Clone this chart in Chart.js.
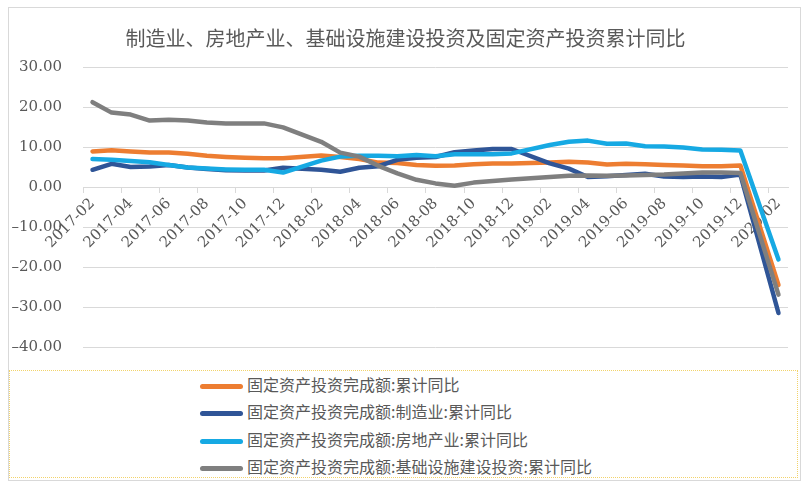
<!DOCTYPE html>
<html>
<head>
<meta charset="utf-8">
<script src="https://cdn.jsdelivr.net/npm/chart.js@4/dist/chart.umd.min.js"></script>
<style>
  body { margin: 0; background: #fff; }
  #frame { position: absolute; left: 8px; top: 7px; width: 791px; height: 472px; border: 1px solid #d9d9d9; }
  #plot { position: absolute; left: 0; top: 0; width: 790px; height: 360px; }
  #legend { position: absolute; left: 0; top: 362px; width: 787px; height: 106px; border: 1px dotted #f2d36b; }
  .row { height: 27.3px; line-height: 27.3px; white-space: nowrap; font-family: "Noto Sans CJK SC", sans-serif; font-size: 16px; color: #595959; }
  .swatch { display: inline-block; vertical-align: middle; margin-left: 190px; margin-right: 4px; width: 43px; height: 5px; border-radius: 3px; }
</style>
</head>
<body>
<div id="frame">
  <div id="plot"><canvas id="grafico"></canvas></div>
  <div id="legend"></div>
</div>
<script>
// Meses (enero sin dato, la línea lo salta)
const meses = [
  '2017-02', '2017-03', '2017-04', '2017-05', '2017-06', '2017-07', '2017-08', '2017-09', '2017-10', '2017-11', '2017-12',
  '2018-01', '2018-02', '2018-03', '2018-04', '2018-05', '2018-06', '2018-07', '2018-08', '2018-09', '2018-10', '2018-11', '2018-12',
  '2019-01', '2019-02', '2019-03', '2019-04', '2019-05', '2019-06', '2019-07', '2019-08', '2019-09', '2019-10', '2019-11', '2019-12',
  '2020-01', '2020-02'
];

const nombres = [
  '固定资产投资完成额:累计同比',
  '固定资产投资完成额:制造业:累计同比',
  '固定资产投资完成额:房地产业:累计同比',
  '固定资产投资完成额:基础设施建设投资:累计同比'
];

const total = [
  8.9, 9.2, 8.9, 8.6, 8.6, 8.3, 7.8, 7.5, 7.3, 7.2, 7.2,
  null, 7.9, 7.5, 7.0, 6.1, 6.0, 5.5, 5.3, 5.4, 5.7, 5.9, 5.9,
  null, 6.1, 6.3, 6.1, 5.6, 5.8, 5.7, 5.5, 5.4, 5.2, 5.2, 5.4,
  null, -24.5
];
const manufactura = [
  4.3, 5.8, 5.0, 5.1, 5.5, 4.9, 4.5, 4.2, 4.1, 4.1, 4.8,
  null, 4.3, 3.8, 4.8, 5.2, 6.8, 7.3, 7.5, 8.7, 9.1, 9.5, 9.5,
  null, 5.9, 4.6, 2.5, 2.7, 3.0, 3.3, 2.6, 2.5, 2.6, 2.5, 3.1,
  null, -31.5
];
const inmobiliario = [
  7.0, 6.8, 6.5, 6.2, 5.5, 4.9, 4.6, 4.4, 4.3, 4.3, 3.6,
  null, 6.6, 7.6, 7.8, 7.8, 7.7, 8.0, 7.7, 8.2, 8.2, 8.2, 8.4,
  null, 10.5, 11.3, 11.6, 10.8, 10.9, 10.2, 10.1, 9.9, 9.4, 9.3, 9.1,
  null, -18.1
];
const infraestructura = [
  21.2, 18.6, 18.1, 16.6, 16.8, 16.6, 16.1, 15.9, 15.9, 15.9, 14.9,
  null, 11.3, 8.6, 7.6, 5.3, 3.4, 1.8, 0.9, 0.3, 1.1, 1.5, 1.9,
  null, 2.5, 2.8, 2.9, 2.8, 2.9, 3.0, 3.1, 3.4, 3.6, 3.6, 3.5,
  null, -26.9
];

const colores = ['#ED7D31', '#2F5597', '#16A9E3', '#7F7F7F'];
const series = [total, manufactura, inmobiliario, infraestructura];

const fuenteNum = { family: 'DejaVu Serif', size: 15 };
const gris = '#595959';
const rejilla = '#d9d9d9';

// El eje Y empieza en 14px por el padding; se extiende a 0 para que no recorte los negativos
const ejeLibre = {
  id: 'ejeLibre',
  afterLayout(chart) { chart.scales.y.left = 0; }
};

new Chart(document.getElementById('grafico'), {
  type: 'line',
  data: {
    labels: meses,
    datasets: series.map((s, i) => ({
      label: nombres[i],
      data: s,
      borderColor: colores[i],
      backgroundColor: colores[i],
      borderWidth: 4.5,
      pointRadius: 0,
      spanGaps: true,
      tension: 0,
      borderCapStyle: 'round',
      borderJoinStyle: 'round',
      order: 4 - i // la última serie queda encima, como en Excel
    }))
  },
  options: {
    responsive: true,
    maintainAspectRatio: false,
    animation: false,
    layout: { padding: { left: 14, right: 11, top: 0, bottom: 21 } },
    plugins: {
      legend: { display: false },
      tooltip: { enabled: false },
      title: {
        display: true,
        text: '制造业、房地产业、基础设施建设投资及固定资产投资累计同比',
        color: gris,
        font: { family: 'Noto Sans CJK SC', size: 20, weight: 'normal', lineHeight: 1 },
        padding: { top: 20, bottom: 19 }
      }
    },
    scales: {
      x: {
        type: 'category',
        position: { y: 0 },
        offset: true,
        grid: {
          offset: true,
          drawOnChartArea: false,
          drawTicks: true,
          tickLength: 5,
          color: ctx => (ctx.index % 2 === 0 ? rejilla : 'rgba(0,0,0,0)')
        },
        border: { display: true, color: rejilla },
        ticks: {
          autoSkip: false,
          minRotation: 45,
          maxRotation: 45,
          color: gris,
          font: fuenteNum,
          padding: 3,
          callback: function (v, i) { return i % 2 === 0 ? this.getLabelForValue(v) : ''; }
        }
      },
      y: {
        min: -40,
        max: 30,
        afterFit: scale => { scale.width = 60; },
        // marcas invisibles de 9px + padding 12 = separación de 21px sin inflar el área
        grid: { color: rejilla, drawTicks: true, tickLength: 9, tickColor: 'rgba(0,0,0,0)' },
        border: { display: false },
        ticks: {
          stepSize: 10,
          padding: 12,
          color: gris,
          font: fuenteNum,
          // guion largo para el signo negativo, como en el original
          callback: v => v.toFixed(2).replace('-', '\u2013')
        }
      }
    }
  },
  plugins: [ejeLibre]
});

// Leyenda en HTML, una serie por fila
const leyenda = document.getElementById('legend');
nombres.forEach((n, i) => {
  const fila = document.createElement('div');
  fila.className = 'row';
  const muestra = document.createElement('span');
  muestra.className = 'swatch';
  muestra.style.background = colores[i];
  fila.appendChild(muestra);
  fila.appendChild(document.createTextNode(n));
  leyenda.appendChild(fila);
});
</script>
</body>
</html>
